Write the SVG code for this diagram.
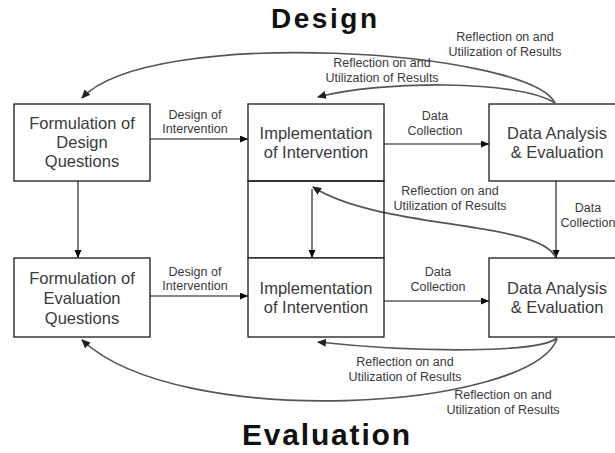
<svg xmlns="http://www.w3.org/2000/svg" width="615" height="453" viewBox="0 0 615 453">
<defs>
<marker id="ah" markerUnits="userSpaceOnUse" markerWidth="9" markerHeight="8" refX="8" refY="3.5" orient="auto">
<path d="M0,0 L8,3.5 L0,7 z" fill="#000"/>
</marker>
<marker id="ahc" markerUnits="userSpaceOnUse" markerWidth="10" markerHeight="9" refX="8" refY="4" orient="auto">
<path d="M0,0 L9,4 L0,8 z" fill="#222"/>
</marker>
<style>
.box{fill:#fff;stroke:#1a1a1a;stroke-width:1.3}
.frame{fill:none;stroke:#1a1a1a;stroke-width:1.3}
.bt{font-family:"Liberation Sans",Arial,sans-serif;font-size:16.5px;fill:#3a3a3a;text-anchor:middle}
.lb{font-family:"Liberation Sans",Arial,sans-serif;font-size:12.5px;fill:#3a3a3a;text-anchor:middle}
.ttl{font-family:"Liberation Sans",Arial,sans-serif;font-weight:bold;fill:#111;text-anchor:middle}
.ln{fill:none;stroke:#111;stroke-width:1.1;marker-end:url(#ah)}
.cv{fill:none;stroke:#555;stroke-width:1.7;marker-end:url(#ahc)}
</style>
</defs>
<rect width="615" height="453" fill="#fff"/>
<text class="ttl" x="324" y="28" font-size="28" textLength="106" lengthAdjust="spacing">Design</text>
<text class="ttl" x="326" y="445" font-size="30" textLength="168" lengthAdjust="spacing">Evaluation</text>

<g id="connectors">
<line class="ln" x1="150" y1="139" x2="248" y2="139"/>
<line class="ln" x1="384" y1="144" x2="489" y2="144"/>
<line class="ln" x1="150" y1="296" x2="248" y2="296"/>
<line class="ln" x1="384" y1="301" x2="489" y2="301"/>
<line class="ln" x1="78" y1="181" x2="78" y2="258"/>
<line class="ln" x1="556" y1="181" x2="556" y2="258"/>
<line class="ln" x1="312" y1="189" x2="312" y2="258"/>
<path class="cv" d="M555,103 C530,50 150,25 82,98"/>
<path class="cv" d="M555,103 C520,80 380,80 318,97"/>
<path class="cv" d="M556,258 C540,220 380,230 313,187"/>
<path class="cv" d="M557,338 C540,353 420,353 318,342"/>
<path class="cv" d="M557,339 C530,410 180,432 82,340"/>
<text class="lb" x="195" y="119">Design of</text>
<text class="lb" x="195" y="133">Intervention</text>
<text class="lb" x="435" y="120">Data</text>
<text class="lb" x="435" y="135">Collection</text>
<text class="lb" x="195" y="276">Design of</text>
<text class="lb" x="195" y="290">Intervention</text>
<text class="lb" x="438" y="276">Data</text>
<text class="lb" x="438" y="291">Collection</text>
<text class="lb" x="588" y="212" font-size="11.5">Data</text>
<text class="lb" x="588" y="227" font-size="11.5">Collection</text>
<text class="lb" x="505" y="41">Reflection on and</text>
<text class="lb" x="505" y="56">Utilization of Results</text>
<text class="lb" x="382" y="67">Reflection on and</text>
<text class="lb" x="382" y="82">Utilization of Results</text>
<text class="lb" x="450" y="195">Reflection on and</text>
<text class="lb" x="450" y="210">Utilization of Results</text>
<text class="lb" x="405" y="366">Reflection on and</text>
<text class="lb" x="405" y="381">Utilization of Results</text>
<text class="lb" x="503" y="399">Reflection on and</text>
<text class="lb" x="503" y="414">Utilization of Results</text>
</g>

<g id="design-questions">
<rect class="box" x="14" y="104" width="136" height="77"/>
<text class="bt" x="82" y="129">Formulation of</text>
<text class="bt" x="82" y="148">Design</text>
<text class="bt" x="82" y="167">Questions</text>
</g>
<g id="impl-design">
<rect class="box" x="248" y="104" width="136" height="77"/>
<text class="bt" x="316" y="139">Implementation</text>
<text class="bt" x="316" y="158">of Intervention</text>
</g>
<g id="analysis-design">
<rect class="box" x="489" y="104" width="136" height="77"/>
<text class="bt" x="557" y="139">Data Analysis</text>
<text class="bt" x="557" y="158">&amp; Evaluation</text>
</g>
<g id="middle-frame">
<rect class="frame" x="248" y="181" width="136" height="77"/>
</g>
<g id="evaluation-questions">
<rect class="box" x="14" y="258" width="136" height="79"/>
<text class="bt" x="82" y="284">Formulation of</text>
<text class="bt" x="82" y="304">Evaluation</text>
<text class="bt" x="82" y="324">Questions</text>
</g>
<g id="impl-evaluation">
<rect class="box" x="248" y="258" width="136" height="79"/>
<text class="bt" x="316" y="294">Implementation</text>
<text class="bt" x="316" y="313">of Intervention</text>
</g>
<g id="analysis-evaluation">
<rect class="box" x="489" y="258" width="136" height="79"/>
<text class="bt" x="557" y="294">Data Analysis</text>
<text class="bt" x="557" y="313">&amp; Evaluation</text>
</g>
</svg>
